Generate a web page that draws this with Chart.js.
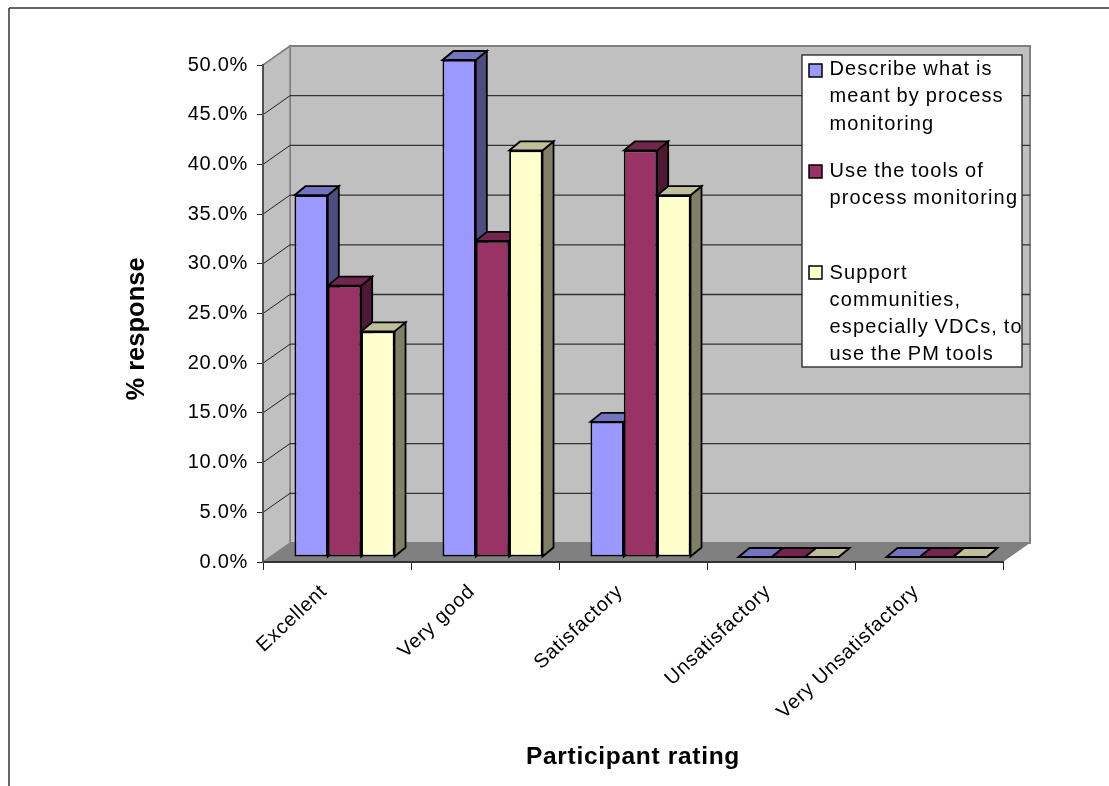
<!DOCTYPE html>
<html>
<head>
<meta charset="utf-8">
<script src="https://cdn.jsdelivr.net/npm/chart.js@4/dist/chart.umd.min.js"></script>
<style>
  html, body { margin: 0; padding: 0; background: #fff; }
  canvas { display: block; }
</style>
</head>
<body>
<canvas id="ratingChart" width="1109" height="786"></canvas>
<script>
const categories = ['Excellent', 'Very good', 'Satisfactory', 'Unsatisfactory', 'Very Unsatisfactory'];
const describeValues = [36.4, 50.0, 13.6, 0, 0];
const useToolsValues = [27.3, 31.8, 40.9, 0, 0];
const supportValues = [22.7, 40.9, 36.4, 0, 0];
const seriesNames = [
    'Describe what is meant by process monitoring',
    'Use the tools of process monitoring',
    'Support communities, especially VDCs, to use the PM tools'
];
const legendLines = [
    ['Describe what is', 'meant by process', 'monitoring'],
    ['Use the tools of', 'process monitoring'],
    ['Support', 'communities,', 'especially VDCs, to', 'use the PM tools']
];
const frontColors = ['#9999ff', '#993366', '#ffffcc'];
const sideColors = ['#4d4d80', '#4d1a33', '#808066'];
const topColors = ['#7373bf', '#73264d', '#bfbf99'];

const fontFamily = '"Liberation Sans", Arial, sans-serif';
const wallDx = 27, wallDy = -19;   // back wall offset from the axes
const barShiftX = 7.5, barShiftY = -5;   // bars stand in the middle of the floor
const barDx = 11, barDy = -9;   // bar depth

function fillPoly(ctx, pts, fill, stroke, lineWidth) {
    ctx.beginPath();
    pts.forEach((p, i) => i ? ctx.lineTo(p[0], p[1]) : ctx.moveTo(p[0], p[1]));
    ctx.closePath();
    if (fill) { ctx.fillStyle = fill; ctx.fill(); }
    if (stroke) { ctx.strokeStyle = stroke; ctx.lineWidth = lineWidth; ctx.lineJoin = 'miter'; ctx.stroke(); }
}

function line(ctx, x1, y1, x2, y2, color, width) {
    ctx.beginPath();
    ctx.moveTo(x1, y1);
    ctx.lineTo(x2, y2);
    ctx.strokeStyle = color;
    ctx.lineWidth = width;
    ctx.stroke();
}

const threeD = {
    id: 'threeD',
    beforeDraw(chart) {
        const ctx = chart.ctx;
        const { left, right, top, bottom } = chart.chartArea;
        // the reference text is stretched, tick labels get a little tracking
        ctx.letterSpacing = '0.7px';
        ctx.save();
        // chart frame, only top and left show in the picture
        line(ctx, 9, 8, 1109, 8, '#333', 1.5);
        line(ctx, 9, 8, 9, 786, '#333', 1.5);
        // walls and floor
        fillPoly(ctx, [[left + wallDx, top + wallDy], [right + wallDx, top + wallDy], [right + wallDx, bottom + wallDy], [left + wallDx, bottom + wallDy]], '#c0c0c0', '#808080', 2);
        fillPoly(ctx, [[left, top], [left + wallDx, top + wallDy], [left + wallDx, bottom + wallDy], [left, bottom]], '#c0c0c0', '#808080', 1.5);
        fillPoly(ctx, [[left, bottom], [right, bottom], [right + wallDx, bottom + wallDy], [left + wallDx, bottom + wallDy]], '#808080');
        // gridlines on the wall
        chart.scales.y.ticks.forEach(t => {
            if (t.value === 0 || t.value === 50) return;
            const y = chart.scales.y.getPixelForValue(t.value);
            line(ctx, left, y, left + wallDx, y + wallDy, '#222', 1);
            line(ctx, left + wallDx, y + wallDy, right + wallDx, y + wallDy, '#333', 1.3);
        });
        line(ctx, left, top, left + wallDx, top + wallDy, '#808080', 1.5);
        ctx.restore();
    },
    beforeDatasetsDraw(chart) {
        const ctx = chart.ctx;
        ctx.save();
        ctx.translate(barShiftX, barShiftY);
        // side and top faces first, the library paints the fronts over them
        chart.data.datasets.forEach((ds, d) => {
            chart.getDatasetMeta(d).data.forEach(bar => {
                const l = bar.x - bar.width / 2, r = bar.x + bar.width / 2;
                fillPoly(ctx, [[r, bar.y], [r + barDx, bar.y + barDy], [r + barDx, bar.base + barDy], [r, bar.base]], sideColors[d], '#000', 1.8);
                fillPoly(ctx, [[l, bar.y], [l + barDx, bar.y + barDy], [r + barDx, bar.y + barDy], [r, bar.y]], topColors[d], '#000', 1.8);
            });
        });
    },
    afterDatasetsDraw(chart) {
        chart.ctx.restore();
    },
    afterDraw(chart) {
        const ctx = chart.ctx;
        ctx.save();
        // y axis title
        ctx.save();
        ctx.letterSpacing = '0px';
        ctx.translate(137, 329);
        ctx.rotate(-Math.PI / 2);
        ctx.font = 'bold 25.5px ' + fontFamily;
        ctx.fillStyle = '#000';
        ctx.textAlign = 'center';
        ctx.textBaseline = 'middle';
        ctx.fillText('% response', 0, 0);
        ctx.restore();
        // legend box
        ctx.fillStyle = '#fff';
        ctx.fillRect(802, 55, 220, 312);
        ctx.strokeStyle = '#222';
        ctx.lineWidth = 1.3;
        ctx.strokeRect(802, 55, 220, 312);
        const firstLines = [69, 171, 273];
        const lineGaps = [27.8, 27.8, 27];
        const swatchTops = [64, 165, 266];
        ctx.font = '20px ' + fontFamily;
        ctx.letterSpacing = '1.15px';
        ctx.wordSpacing = '-1px';
        ctx.textBaseline = 'middle';
        legendLines.forEach((lines, s) => {
            ctx.fillStyle = frontColors[s];
            ctx.strokeStyle = '#000';
            ctx.lineWidth = 1.5;
            ctx.fillRect(809, swatchTops[s], 13, 13);
            ctx.strokeRect(809, swatchTops[s], 13, 13);
            ctx.fillStyle = '#000';
            lines.forEach((text, i) => ctx.fillText(text, 829.5, firstLines[s] + i * lineGaps[s]));
        });
        ctx.restore();
    }
};

new Chart(document.getElementById('ratingChart'), {
    type: 'bar',
    data: {
        labels: categories,
        datasets: [describeValues, useToolsValues, supportValues].map((values, s) => ({
            label: seriesNames[s],
            data: values,
            backgroundColor: frontColors[s],
            borderColor: '#000',
            borderWidth: 1.8,
            borderSkipped: false,
            clip: false,
            categoryPercentage: 0.676,
            barPercentage: 1
        }))
    },
    options: {
        responsive: false,
        animation: false,
        layout: { padding: { left: 120, right: 106, top: 65, bottom: 0 } },
        plugins: { legend: { display: false }, tooltip: { enabled: false } },
        scales: {
            x: {
                afterFit(scale) { scale.height = 224; },
                grid: { drawOnChartArea: false, tickLength: 8, tickColor: '#222', tickWidth: 1 },
                border: { color: '#333', width: 2 },
                ticks: { minRotation: 43, maxRotation: 43, color: '#000', padding: 10, labelOffset: -13, font: { family: fontFamily, size: 20 } },
                title: { display: true, text: 'Participant rating', color: '#000', padding: { top: 0, bottom: 14 }, font: { family: fontFamily, size: 24.5, weight: 'bold' } }
            },
            y: {
                min: 0,
                max: 50,
                afterFit(scale) { scale.width = 143; },
                grid: { drawOnChartArea: false, tickLength: 6, tickColor: '#222', tickWidth: 1 },
                border: { color: '#505050', width: 2 },
                ticks: { stepSize: 5, color: '#000', padding: 9, font: { family: fontFamily, size: 20 }, callback: v => v.toFixed(1) + '%' }
            }
        }
    },
    plugins: [threeD]
});
</script>
</body>
</html>
